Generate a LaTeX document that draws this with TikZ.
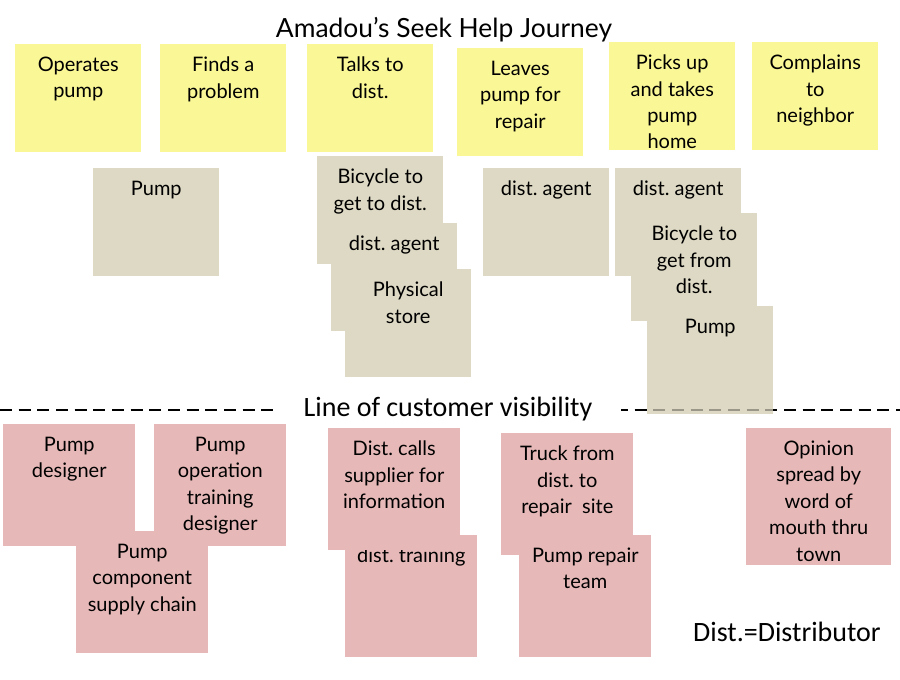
\documentclass[tikz,border=0pt]{standalone}
\usepackage{fontspec}
\usepackage{xcolor}
\usepackage{tikz}
\setmainfont{Lato}
\newfontfamily\calfont{Carlito}
\usetikzlibrary{positioning, calc}
\frenchspacing

\definecolor{notey}{HTML}{FAF796}
\definecolor{noteg}{HTML}{DDD9C4}
\definecolor{notep}{HTML}{E6B9B8}
\newcommand{\stickyfont}{\fontsize{15}{19.8}\selectfont}

\tikzset{
    note/.style={anchor=north west, inner sep=0pt, minimum width=94.5pt, minimum height=81pt},
    ynote/.style={note, fill=notey},
    gnote/.style={note, fill=noteg},
    pnote/.style={note, fill=notep, minimum width=99pt, minimum height=91.5pt},
    jot/.style={anchor=north, align=center, inner sep=0pt, font=\stickyfont, yshift=-9.5pt},
    visline/.style={line width=1.6pt, dash pattern=on 9pt off 5pt},
    vislabel/.style={fill=white, inner sep=0pt, minimum width=260pt, minimum height=28pt, font=\calfont\fontsize{21}{25}\selectfont}
}

\begin{document}
\begin{tikzpicture}[x=0.75pt, y=-0.75pt]

    % Page frame (pixel grid of the slide)
    \useasboundingbox (0,0) rectangle (900,680);

    % Title
    \node[font=\fontsize{19.8}{24}\selectfont] (title) at (444,30) {Amadou’s Seek Help Journey};

    % Line of customer visibility
    \coordinate (visL) at (0,410);
    \coordinate (visR) at (900,410);
    \draw[visline] (visL) -- (visR);

    % Customer steps (yellow)
    \node[ynote, label={[jot]north:Operates\\pump}] (operate) at (15,44) {};
    \node[ynote, label={[jot]north:Finds a\\problem}] (findprob) at (160,44) {};
    \node[ynote, label={[jot]north:Talks to\\dist.}] (talkdist) at (307,44) {};
    \node[ynote, label={[jot]north:Leaves\\pump for\\repair}] (leavepump) at (457,48) {};
    \node[ynote, label={[jot]north:Picks up\\and takes\\pump\\home}] (pickup) at (609,42) {};
    \node[ynote, label={[jot]north:Complains\\to\\neighbor}] (complain) at (752,42) {};

    % Touch points the customer sees (tan)
    \node[gnote, label={[jot]north:Pump}] (pumpA) at (93,168) {};
    \node[gnote, label={[jot]north:Bicycle to\\get to dist.}] (bikeA) at (317,156) {};
    \node[gnote, label={[jot]north:dist. agent}] (agentA) at (331,223) {};
    \node[gnote, label={[jot]north:Physical\\store}] (store) at (345,269) {};
    \node[gnote, label={[jot]north:dist. agent}] (agentB) at (483,168) {};
    \node[gnote, label={[jot]north:dist. agent}] (agentC) at (615,168) {};
    \node[gnote, label={[jot]north:Bicycle to\\get from\\dist.}] (bikeB) at (631,213) {};
    \node[gnote, label={[jot]north:Pump}] (pumpB) at (647,306) {};

    % dashes show faintly through the last note
    \draw[visline, draw opacity=0.3] (visL) -- (visR);
    \node[vislabel] (vis) at (448,409) {Line of customer visibility};

    % Behind the line (pink)
    \node[pnote, label={[jot]north:Pump\\designer}] (designer) at (3,424) {};
    \node[pnote, label={[jot]north:Pump\\operation\\training\\designer}] (trainer) at (154,424) {};
    \node[pnote, label={[jot]north:Pump\\component\\supply chain}] (supply) at (76,531) {};
    \node[pnote, label={[jot]north:dist. training}] (training) at (345,535) {};
    \node[pnote, label={[jot]north:Dist. calls\\supplier for\\information}] (callsup) at (328,428) {};
    \node[pnote, label={[jot]north:Truck from\\dist. to\\repair~ site}] (truck) at (501,433) {};
    \node[pnote, label={[jot]north:Pump repair\\team}] (repairteam) at (519,535) {};
    \node[pnote, minimum width=108.75pt, minimum height=102.75pt,
          label={[jot]north:Opinion\\spread by\\word of\\mouth thru\\town}] (opinion) at (746,428) {};

    % Key
    \node[font=\calfont\fontsize{21}{25}\selectfont] (key) at (787,632) {Dist.=Distributor};

\end{tikzpicture}
\end{document}
